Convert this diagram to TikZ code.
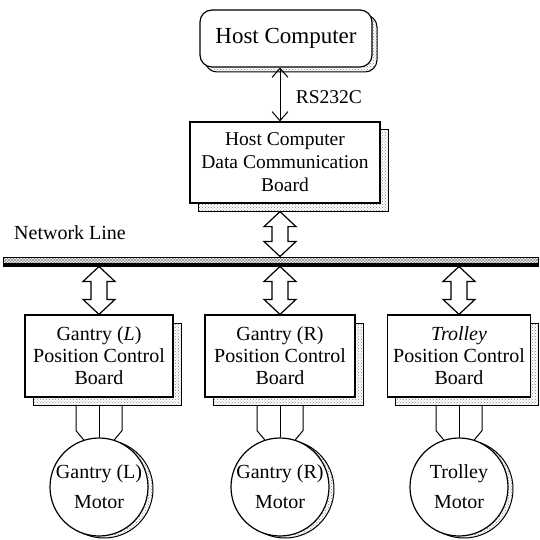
\documentclass[tikz,border=0pt]{standalone}
\usepackage{fontspec}
\setmainfont{Liberation Serif}
\usetikzlibrary{arrows.meta,patterns,calc,shadows}
\tikzset{
  shade box/.style={copy shadow={shadow xshift=#1,shadow yshift=-#1,draw,line width=1pt,pattern=crosshatch dots,pattern color=gray}},
  hostbox/.style={draw,line width=1.2pt,fill=white,rounded corners=12pt,minimum width=172pt,minimum height=57pt,inner sep=0pt,font=\fontsize{23}{25}\selectfont,shade box=5pt},
  boardbox/.style={draw,line width=1.2pt,fill=white,minimum width=#1,minimum height=82pt,inner sep=0pt,align=center,font=\fontsize{20}{22}\selectfont,shade box=8pt},
  motor/.style={draw,circle,line width=1.2pt,fill=white,minimum size=98pt,inner sep=0pt,align=center,font=\fontsize{20}{30}\selectfont,
    copy shadow={shadow xshift=5pt,shadow yshift=-2pt,draw,line width=1pt,pattern=crosshatch dots,pattern color=gray}},
  wire/.style={line width=1pt},
  >={Straight Barb[length=9pt,width=16pt]}
}
% hollow double arrow, #1 = upper end, #2 = lower end
\newcommand\busarrow[2]{%
  \draw[line width=1.2pt,fill=white] let \p1=(#1), \p2=(#2) in
    (\x1,\y1) -- (\x1-16pt,\y1-15pt) -- (\x1-8pt,\y1-15pt) -- (\x1-8pt,\y2+15pt)
    -- (\x1-16pt,\y2+15pt) -- (\x1,\y2) -- (\x1+16pt,\y2+15pt) -- (\x1+8pt,\y2+15pt)
    -- (\x1+8pt,\y1-15pt) -- (\x1+16pt,\y1-15pt) -- cycle;}

\begin{document}
\begin{tikzpicture}[x=1pt,y=1pt]
  \useasboundingbox (0,0) rectangle (540,539);

  \node[hostbox] (host) at (286,500.5) {Host Computer};
  \node[boardbox=190pt,minimum height=81pt,font=\fontsize{19.5}{23}\selectfont] (hcb) at (285,376.5)
    {Host Computer\\Data Communication\\Board};
  \coordinate (col) at (280,0);
  \draw[<->,line width=1pt] (host.south -| col) -- (hcb.north -| col)
    node[pos=0.55,right=12pt,font=\fontsize{19.5}{22}\selectfont] (rs) {RS232C};

  % network line
  \node[font=\fontsize{20}{22}\selectfont] (netlbl) at (70,306) {Network Line};
  \node[draw,line width=1pt,minimum width=535pt,minimum height=9pt,inner sep=0pt,
    pattern=crosshatch,pattern color=gray] (bus) at (270.5,277.5) {};
  \fill (bus.south west) rectangle ([yshift=3.5pt]bus.south east);

  \coordinate (hcbfoot) at ([yshift=-8pt]hcb.south -| col);
  \busarrow{hcbfoot}{bus.north -| col}

  % position control boards
  \node[boardbox=148pt] (glb) at (99,183) {Gantry (\textit{L})\\Position Control\\Board};
  \node[boardbox=150pt] (grb) at (280,183) {Gantry (R)\\Position Control\\Board};
  \node[boardbox=143pt] (tb) at (459,183) {\textit{Trolley}\\Position Control\\Board};

  \busarrow{bus.south -| glb}{glb.north}
  \busarrow{bus.south -| grb}{grb.north}
  \busarrow{bus.south -| tb}{tb.north}

  % motors
  \node[motor] (glm) at (99,52) {Gantry (L)\\Motor};
  \node[motor] (grm) at (280,52) {Gantry (R)\\Motor};
  \node[motor] (tm) at (459,52) {Trolley\\Motor};

  \foreach \b/\m in {glb/glm,grb/grm,tb/tm}{
    \draw[wire] ([xshift=-23pt,yshift=-8pt]\b.south) -- ++(0,-25) -- (\m.108);
    \draw[wire] ([yshift=-8pt]\b.south) -- (\m.north);
    \draw[wire] ([xshift=23pt,yshift=-8pt]\b.south) -- ++(0,-25) -- (\m.72);
  }
\end{tikzpicture}
\end{document}
